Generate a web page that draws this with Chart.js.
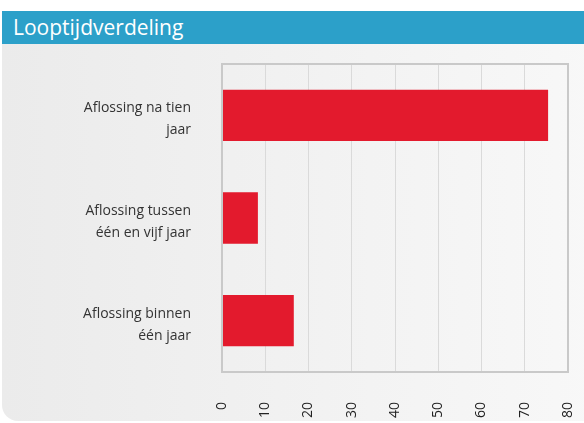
<!DOCTYPE html>
<html lang="nl">
  <head>
    <meta charset="UTF-8" />
    <title>Looptijdverdeling</title>
    <script src="https://cdn.jsdelivr.net/npm/chart.js@4.4.1/dist/chart.umd.min.js"></script>
  </head>
  <style>
    html,
    body {
      margin: 0;
      padding: 0;
      background-color: #ffffff;
      width: 584px;
      height: 423px;
      overflow: hidden;
    }

    .panel {
      position: absolute;
      left: 2px;
      top: 11px;
      width: 600px;
      height: 410px;
      border-bottom-left-radius: 16px;
      overflow: hidden;
      background: linear-gradient(to right, #ebebeb, #f8f8f8);
    }

    .panel-title {
      height: 33px;
      line-height: 32px;
      background-color: #2ca0c9;
      color: #ffffff;
      font-family: "Open Sans", sans-serif;
      font-size: 21px;
      padding-left: 11px;
    }

    .chart-container {
      position: absolute;
      left: -2px;
      top: 33px;
      width: 584px;
      height: 377px;
    }
  </style>
  <body>
    <div class="panel">
      <div class="panel-title">Looptijdverdeling</div>
      <div class="chart-container">
        <canvas id="looptijdChart"></canvas>
      </div>
    </div>

    <script>
      const categories = [
        ["Aflossing na tien", "jaar"],
        ["Aflossing tussen", "één en vijf jaar"],
        ["Aflossing binnen", "één jaar"],
      ];
      const values = [75.4, 8.3, 16.6];
      const tickValues = [0, 10, 20, 30, 40, 50, 60, 70, 80];

      const frameColor = "#c9c9c9";

      // grey frame round the plot area
      const plotFrame = {
        id: "plotFrame",
        afterDatasetsDraw(chart) {
          const { ctx, chartArea } = chart;
          ctx.save();
          ctx.strokeStyle = frameColor;
          ctx.lineWidth = 2;
          ctx.strokeRect(
            chartArea.left,
            chartArea.top,
            chartArea.right - chartArea.left,
            chartArea.bottom - chartArea.top
          );
          ctx.restore();
        },
      };

      const ctx = document.getElementById("looptijdChart").getContext("2d");

      const looptijdChart = new Chart(ctx, {
        type: "bar",
        data: {
          labels: categories,
          datasets: [
            {
              label: "Looptijdverdeling",
              data: values,
              backgroundColor: "#e31a2d",
              borderWidth: 0,
              categoryPercentage: 1,
              barPercentage: 0.5,
            },
          ],
        },
        options: {
          indexAxis: "y",
          responsive: true,
          maintainAspectRatio: false,
          animation: false,
          layout: {
            padding: { top: 20, right: 16, bottom: 0, left: 0 },
          },
          plugins: {
            legend: { display: false },
            tooltip: { enabled: false },
          },
          scales: {
            x: {
              min: 0,
              max: 80,
              afterBuildTicks: (scale) => {
                scale.ticks = tickValues.map((v) => ({ value: v }));
              },
              afterFit: (scale) => {
                scale.height = 49;
                scale.paddingLeft = 0;
                scale.paddingRight = 0;
              },
              grid: {
                color: "#dadada",
                lineWidth: 1,
                drawTicks: false,
              },
              border: { display: false },
              ticks: {
                minRotation: 90,
                maxRotation: 90,
                padding: 30,
                color: "#222222",
                font: { family: "'Open Sans', sans-serif", size: 14 },
              },
            },
            y: {
              afterFit: (scale) => {
                scale.width = 222;
                scale.paddingTop = 0;
                scale.paddingBottom = 0;
              },
              grid: { display: false },
              border: { display: false },
              ticks: {
                padding: 23,
                labelOffset: 4,
                color: "#333333",
                font: {
                  family: "'Open Sans', sans-serif",
                  size: 14,
                  lineHeight: 1.55,
                },
              },
            },
          },
        },
        plugins: [plotFrame],
      });
    </script>
  </body>
</html>
